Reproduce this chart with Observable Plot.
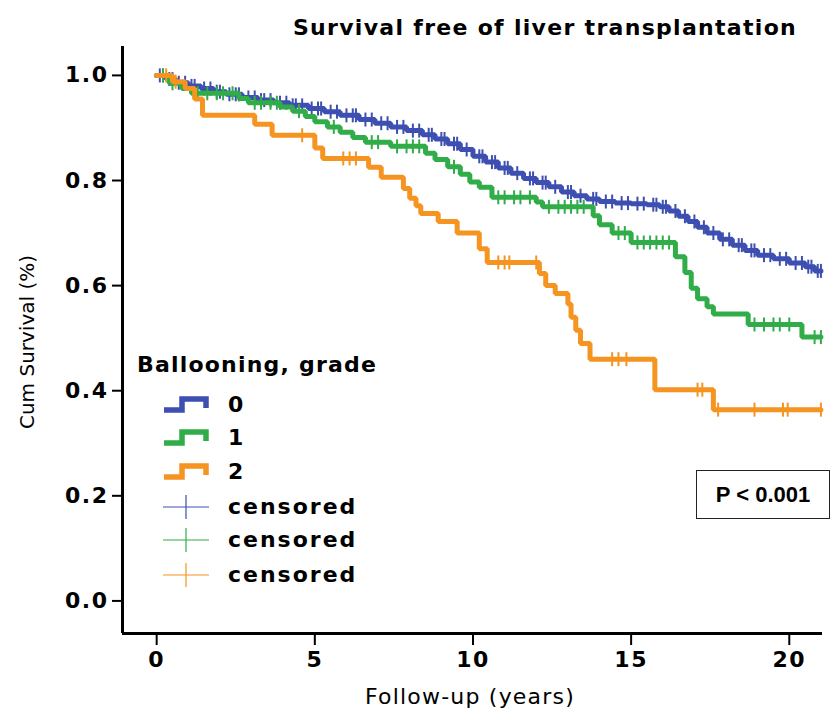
<!DOCTYPE html>
<html><head><meta charset="utf-8">
<script src="https://cdn.jsdelivr.net/npm/d3@7"></script>
<script src="https://cdn.jsdelivr.net/npm/@observablehq/plot@0.6"></script>
<style>
body{margin:0;background:#fff;}
#wrap{position:relative;width:832px;height:717px;font-family:"DejaVu Sans",sans-serif;color:#000;}
.abs{position:absolute;white-space:nowrap;color:#000;line-height:1;}
</style></head><body>
<div id="wrap"></div>
<script>
// ---- data ----
const groups = ["0", "1", "2"];
const colors = ["#3d4fb0", "#30ad48", "#f59420"];

// grade 0 (blue): event times (years) and survival after each step
const t0 = [0, 0.3, 0.6, 1.0, 1.4, 1.8, 2.2, 2.7, 3.2, 3.7, 4.2, 4.8, 5.3, 5.8, 6.4, 6.9, 7.4, 7.9, 8.4, 8.8, 9.2, 9.6, 10.0, 10.4, 10.8, 11.2, 11.6, 12.0, 12.4, 12.8, 13.2, 13.6, 14.0, 14.5, 15.0, 15.5, 15.9, 16.2, 16.5, 16.8, 17.1, 17.4, 17.8, 18.2, 18.6, 19.0, 19.5, 20.0, 20.5, 20.8];
const s0 = [1.0, 0.993, 0.986, 0.98, 0.975, 0.969, 0.964, 0.958, 0.953, 0.948, 0.943, 0.937, 0.931, 0.924, 0.916, 0.909, 0.902, 0.895, 0.887, 0.879, 0.87, 0.859, 0.846, 0.835, 0.824, 0.814, 0.804, 0.796, 0.788, 0.778, 0.771, 0.765, 0.76, 0.757, 0.756, 0.754, 0.75, 0.742, 0.732, 0.722, 0.711, 0.70, 0.688, 0.677, 0.667, 0.658, 0.651, 0.643, 0.636, 0.628];
const c0 = [0.1, 0.2, 0.4, 0.5, 0.7, 0.9, 1.1, 1.2, 1.5, 1.7, 1.9, 2.0, 2.3, 2.5, 2.6, 2.9, 3.1, 3.3, 3.4, 3.6, 3.9, 4.1, 4.3, 4.4, 4.6, 4.9, 5.1, 5.2, 5.5, 5.7, 6.0, 6.2, 6.3, 6.6, 6.8, 7.1, 7.3, 7.6, 7.8, 8.1, 8.3, 8.6, 8.7, 9.0, 9.1, 9.4, 9.5, 9.8, 10.2, 10.3, 10.6, 10.7, 11.0, 11.1, 11.4, 11.8, 11.9, 12.2, 12.3, 12.6, 13.0, 13.1, 13.4, 13.8, 13.9, 14.2, 14.4, 14.7, 14.9, 15.2, 15.4, 15.7, 15.8, 16.0, 16.1, 16.4, 16.7, 17.0, 17.3, 17.6, 17.9, 18.1, 18.4, 18.5, 18.8, 18.9, 19.2, 19.4, 19.7, 19.9, 20.2, 20.4, 20.6, 20.7, 20.9, 21.0];

// grade 1 (green)
const t1 = [0, 0.4, 0.8, 1.1, 2.6, 2.9, 3.9, 4.3, 4.7, 5.0, 5.4, 5.8, 6.2, 6.6, 7.4, 8.5, 8.8, 9.2, 9.6, 9.9, 10.2, 10.6, 12.0, 12.2, 13.8, 14.0, 14.4, 15.0, 16.4, 16.7, 16.9, 17.1, 17.4, 17.6, 18.7, 20.4];
const s1 = [1.0, 0.985, 0.975, 0.966, 0.956, 0.948, 0.94, 0.932, 0.922, 0.912, 0.902, 0.892, 0.882, 0.873, 0.865, 0.852, 0.84, 0.826, 0.812, 0.797, 0.787, 0.768, 0.759, 0.75, 0.733, 0.716, 0.70, 0.682, 0.655, 0.625, 0.595, 0.575, 0.56, 0.546, 0.526, 0.502];
const c1 = [0.2, 0.5, 1.3, 1.6, 1.9, 2.1, 2.4, 3.1, 3.3, 3.6, 3.8, 4.5, 5.6, 6.8, 7.0, 7.6, 7.9, 8.1, 8.3, 9.4, 10.8, 11.0, 11.3, 11.5, 11.8, 12.4, 12.7, 12.9, 13.1, 13.3, 13.5, 14.6, 14.8, 15.2, 15.4, 15.6, 15.8, 16.0, 16.2, 18.9, 19.2, 19.5, 19.7, 20.0, 20.8, 21.0];

// grade 2 (orange)
const t2 = [0, 0.5, 0.9, 1.2, 1.45, 3.1, 3.65, 5.0, 5.25, 6.7, 7.1, 7.8, 8.0, 8.2, 8.35, 8.9, 9.5, 10.2, 10.45, 12.1, 12.3, 12.6, 13.0, 13.1, 13.25, 13.4, 13.7, 15.75, 17.6];
const s2 = [1.0, 0.988, 0.975, 0.955, 0.924, 0.907, 0.886, 0.862, 0.842, 0.825, 0.806, 0.785, 0.766, 0.752, 0.737, 0.722, 0.70, 0.67, 0.644, 0.623, 0.60, 0.585, 0.565, 0.54, 0.515, 0.49, 0.46, 0.402, 0.364];
const c2 = [0.3, 0.6, 4.6, 5.9, 6.1, 6.3, 10.8, 11.0, 11.15, 12.0, 14.4, 14.6, 14.85, 17.1, 17.25, 17.75, 18.9, 19.8, 19.95, 21.0];

const xTicks = [0, 5, 10, 15, 20];
const yTicks = [0, 0.2, 0.4, 0.6, 0.8, 1.0];
const xDomain = [-1.08, 21.05];
const yDomain = [-0.062, 1.055];

const titleText = "Survival free of liver transplantation";
const xLabel = "Follow-up (years)";
const yLabel = "Cum Survival (%)";
const legendTitle = "Ballooning, grade";
const censoredLabel = "censored";
const pText = "P < 0.001";

// ---- build tables ----
function stepRows(g, t, s, c) {
  const rows = t.map((ti, i) => ({g, t: ti, s: s[i]}));
  rows.push({g, t: d3.max(c), s: s[s.length - 1]});
  return rows;
}
function censorRows(g, t, s, c) {
  return c.map(ci => ({g, t: ci, s: s[d3.bisectRight(t, ci) - 1]}));
}
const series = [[t0, s0, c0], [t1, s1, c1], [t2, s2, c2]];
const steps = series.map(([t, s, c], i) => stepRows(groups[i], t, s, c));
const cens = series.map(([t, s, c], i) => censorRows(groups[i], t, s, c));

const vtick = {draw(ctx, size) { const r = Math.sqrt(size / Math.PI); ctx.moveTo(0, -r); ctx.lineTo(0, r); }};

const marks = [];
for (let i = 0; i < 3; i++) {
  marks.push(Plot.line(steps[i], {x: "t", y: "s", stroke: "g", strokeWidth: 5, curve: "step-after", strokeLinejoin: "miter"}));
  marks.push(Plot.dot(cens[i], {x: "t", y: "s", stroke: "g", fill: "none", symbol: vtick, r: 7, strokeWidth: 2}));
}

const chart = Plot.plot({
  width: 832, height: 717,
  marginLeft: 122, marginRight: 10, marginTop: 46, marginBottom: 84,
  style: {fontFamily: "DejaVu Sans", color: "#000", background: "#fff", overflow: "visible"},
  x: {domain: xDomain},
  y: {domain: yDomain},
  color: {domain: groups, range: colors},
  marks: [
    ...marks,
    Plot.axisY(yTicks, {tickSize: 10, tickPadding: 4, strokeWidth: 2, tickFormat: d => d.toFixed(1), fontSize: 22, fontWeight: "bold", label: null}),
    Plot.axisX(xTicks, {tickSize: 12, tickPadding: 6, strokeWidth: 2, tickFormat: d => String(d), fontSize: 22, fontWeight: "bold", label: null}),
    Plot.ruleX([xDomain[0]], {strokeWidth: 3, stroke: "#000"}),
    Plot.ruleY([yDomain[0]], {strokeWidth: 3, stroke: "#000"})
  ]
});

const wrap = document.getElementById("wrap");
wrap.appendChild(chart);
chart.querySelectorAll("g[aria-label='y-axis tick label'] text, g[aria-label='x-axis tick label'] text").forEach(t => t.setAttribute("letter-spacing", "1.5"));

function addText(txt, css) {
  const d = document.createElement("div");
  d.className = "abs";
  d.textContent = txt;
  Object.assign(d.style, css);
  wrap.appendChild(d);
  return d;
}
// title
addText(titleText, {left: "545px", top: "28px", transform: "translate(-50%,-50%)", fontSize: "22px", fontWeight: "bold", letterSpacing: "1.3px"});
// axis labels
addText(xLabel, {left: "470px", top: "697px", transform: "translate(-50%,-50%)", fontSize: "22px", letterSpacing: "1.2px"});
addText(yLabel, {left: "27px", top: "342px", transform: "translate(-50%,-50%) rotate(-90deg)", fontSize: "20px"});

// legend
addText(legendTitle, {left: "137px", top: "365px", transform: "translateY(-50%)", fontSize: "22px", fontWeight: "bold", letterSpacing: "1.2px"});
const rowsY = [405, 438, 472, 507, 540, 575];
const svgNS = "http://www.w3.org/2000/svg";
function icon(y, kind, color) {
  const s = document.createElementNS(svgNS, "svg");
  s.setAttribute("width", 52); s.setAttribute("height", 30);
  Object.assign(s.style, {position: "absolute", left: "160px", top: (y - 15) + "px"});
  const p = document.createElementNS(svgNS, "path");
  if (kind === "step") {
    p.setAttribute("d", "M4,20 H22 V9 H46 V18");
    p.setAttribute("stroke-width", 5.5);
  } else {
    p.setAttribute("d", "M3,15 H49 M26,3 V27");
    p.setAttribute("stroke-width", 1.2);
  }
  p.setAttribute("stroke", color); p.setAttribute("fill", "none");
  s.appendChild(p); wrap.appendChild(s);
}
for (let i = 0; i < 3; i++) {
  icon(rowsY[i], "step", colors[i]);
  addText(groups[i], {left: "228px", top: rowsY[i] + "px", transform: "translateY(-50%)", fontSize: "22px", fontWeight: "bold"});
  icon(rowsY[i + 3], "plus", colors[i]);
  addText(censoredLabel, {left: "228px", top: rowsY[i + 3] + "px", transform: "translateY(-50%)", fontSize: "22px", fontWeight: "bold", letterSpacing: "2px"});
}

// p-value box
addText(pText, {left: "696px", top: "470px", width: "134px", height: "49px", border: "1.5px solid #222", display: "flex", alignItems: "center", justifyContent: "center", fontFamily: "'Liberation Sans', Arial, sans-serif", fontWeight: "bold", fontSize: "22px", boxSizing: "border-box", background: "#fff"});
</script>
</body></html>
